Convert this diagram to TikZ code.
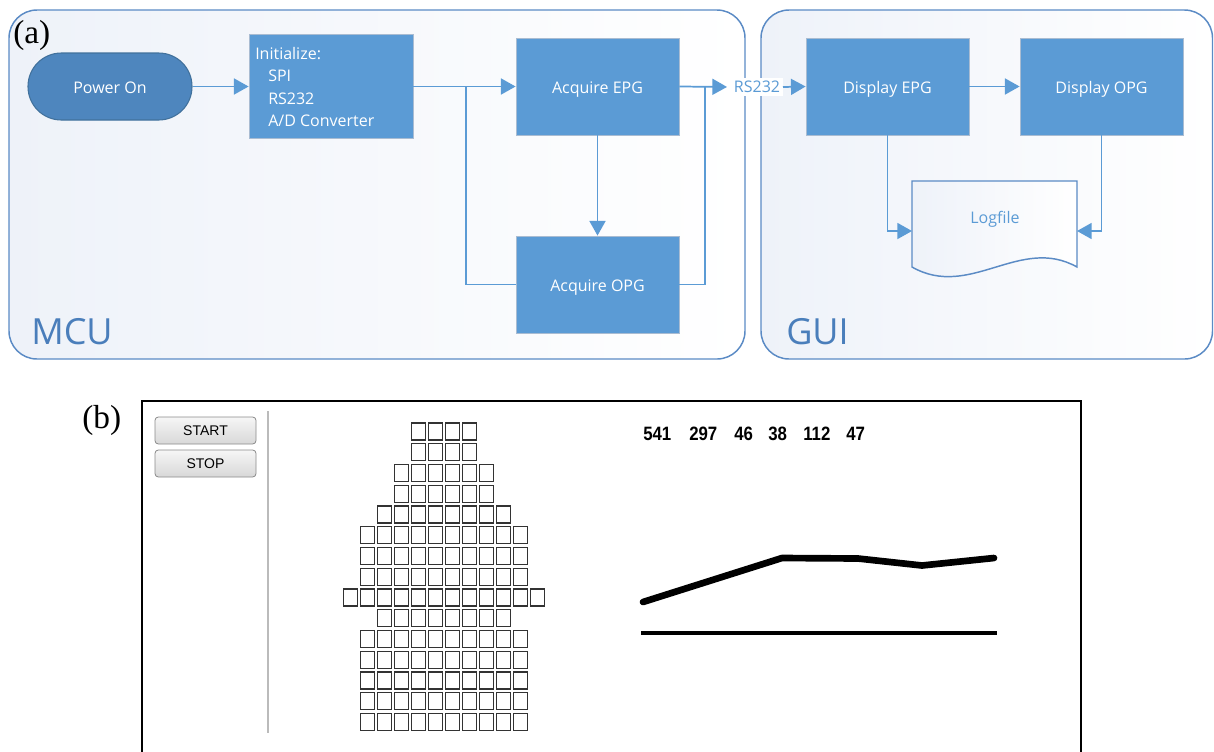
\documentclass[tikz,border=0pt]{standalone}
\usepackage{fontspec}
\setmainfont{Open Sans}
\newfontfamily\seriffont{Liberation Serif}
\newfontfamily\guifont{Liberation Sans}
\usetikzlibrary{arrows.meta,fit}
\definecolor{boxblue}{HTML}{5B9BD5}
\definecolor{boxedge}{HTML}{A9BCD2}
\definecolor{pwrblue}{HTML}{4E86BE}
\definecolor{pwredge}{HTML}{41719C}
\definecolor{paneledge}{HTML}{5B8BC5}
\definecolor{panelfill}{HTML}{EEF2F9}
\definecolor{labelblue}{HTML}{4A7EBB}
\definecolor{btnedge}{HTML}{8A8A8A}
\definecolor{btntop}{HTML}{F6F6F6}
\definecolor{btnbot}{HTML}{D8D8D8}
\definecolor{sqedge}{HTML}{333333}
\definecolor{sepgrey}{HTML}{BBBBBB}
\tikzset{
  panel/.style={draw=paneledge, line width=1.1pt, rounded corners=21pt, left color=panelfill, right color=white},
  stepbox/.style={draw=boxedge, line width=0.6pt, fill=boxblue, inner sep=0pt},
  startbox/.style={draw=pwredge, line width=0.8pt, fill=pwrblue, inner sep=0pt, rounded corners=25pt},
  flowtext/.style={text=white, inner sep=0pt, font=\fontsize{12}{14}\selectfont},
  flow/.style={draw=boxblue, line width=1.3pt, -{Triangle[length=11pt,width=12pt]}},
  plainline/.style={draw=boxblue, line width=1.3pt},
  docshape/.style={draw=paneledge, line width=1.1pt, left color=panelfill, right color=white},
  bigtext/.style={text=labelblue, inner sep=0pt, font=\fontsize{27}{30}\selectfont},
  tag/.style={inner sep=0pt, font=\seriffont\fontsize{25}{28}\selectfont},
  btn/.style={draw=btnedge, line width=0.6pt, rounded corners=2.5pt, top color=btntop, bottom color=btnbot, inner sep=0pt},
  btntext/.style={inner sep=0pt, font=\guifont\fontsize{10.5}{12}\selectfont},
  sq/.style={draw=sqedge, line width=1.1pt},
  num/.style={inner sep=0pt, anchor=base west, font=\guifont\bfseries\fontsize{14.5}{16}\selectfont},
}
\begin{document}
\begin{tikzpicture}[x=0.75pt,y=-0.75pt]
\useasboundingbox (0,0) rectangle (1214,751);
% ---------- (a) ----------
\path[panel] (9,10) rectangle (745,359);
\path[panel] (761,10) rectangle (1212.5,359);
\node[tag, anchor=base west] (taga) at (13,43) {(a)};
\node[bigtext, anchor=base west] (mcu) at (31,344) {MCU};
\node[bigtext, anchor=base west] (gui) at (786,344) {GUI};

\node[startbox, fit={(28,53)(192,120)}] (pwr) {};
\node[flowtext] (pwrt) at ([yshift=-1pt]pwr.center) {Power On};
\node[stepbox, fit={(249,34)(413,138)}] (init) {};
\node[flowtext, anchor=base west] (i1) at (255,59.3) {Initialize:};
\node[flowtext, anchor=base west] (i2) at (268,81.7) {SPI};
\node[flowtext, anchor=base west] (i3) at (268,104) {RS232};
\node[flowtext, anchor=base west] (i4) at (268,126) {A/D Converter};

\node[stepbox, fit={(516,38)(679,135)}] (aepg) {};
\node[flowtext] (aepgt) at ([yshift=-2pt]aepg.center) {Acquire EPG};
\node[stepbox, fit={(516,236)(679,333)}] (aopg) {};
\node[flowtext] (aopgt) at ([yshift=-2pt]aopg.center) {Acquire OPG};
\node[stepbox, fit={(806,38)(969,135)}] (depg) {};
\node[flowtext] (depgt) at ([yshift=-2pt]depg.center) {Display EPG};
\node[stepbox, fit={(1020,38)(1183,135)}] (dopg) {};
\node[flowtext] (dopgt) at ([yshift=-2pt]dopg.center) {Display OPG};

\path[docshape] (912,181) -- (1077,181) -- (1077,267) .. controls (1020,235) and (970,300) .. (912,267) -- cycle;
\node[text=boxblue, inner sep=0pt, font=\fontsize{12}{14}\selectfont] (log) at (995,219) {Logfile};
\coordinate (logL) at (912,231);
\coordinate (logR) at (1077,231);

\node[fill=white, text=boxblue, inner sep=2pt, font=\fontsize{12}{14}\selectfont] (rs) at (757,87) {RS232};

\coordinate (j1) at (466,87);
\coordinate (j2) at (705,87);

\draw[flow] (pwr.east) -- (init.west |- pwr.east);
\draw[flow] (init.east |- aepg.west) -- (aepg.west);
\draw[plainline] (aopg.west) -| (j1);
\draw[flow] (aepg.south) -- (aopg.north);
\draw[flow, shorten >=3pt] (aepg.east) -- (rs.west);
\draw[plainline] (aopg.east) -| (j2);
\draw[flow] (rs.east) -- (depg.west);
\draw[flow] (depg.east) -- (dopg.west);
\draw[flow] (depg.south) |- (logL);
\draw[flow] (dopg.south) |- (logR);

% ---------- (b) ----------
\node[tag, anchor=base west] (tagb) at (82,428) {(b)};
\draw[line width=1.5pt] (142,770) -- (142,401) -- (1081,401) -- (1081,770);
\draw[sepgrey, line width=1.5pt] (268,411) -- (268,733);
\node[btn, fit={(155,417)(256,444)}] (start) {};
\node[btntext] (startt) at (start.center) {START};
\node[btn, fit={(155,450)(256,477)}] (stop) {};
\node[btntext] (stopt) at (stop.center) {STOP};

\foreach \n [count=\r from 0] in {4,4,6,6,8,10,10,10,12,8,10,10,10,10,10} {
  \pgfmathsetmacro\yy{423+20.75*\r}
  \pgfmathsetmacro\xo{444-(\n*17-3)/2}
  \foreach \c in {1,...,\n} {
    \draw[sq] ({\xo+(\c-1)*17},\yy) rectangle ++(14,17);
  }
}

\node[num] (n1) at (643,440.5) {\scalebox{0.87}[1]{541}};
\node[num] (n2) at (689,440.5) {\scalebox{0.87}[1]{297}};
\node[num] (n3) at (734,440.5) {\scalebox{0.87}[1]{46}};
\node[num] (n4) at (768,440.5) {\scalebox{0.87}[1]{38}};
\node[num] (n5) at (803,440.5) {\scalebox{0.87}[1]{112}};
\node[num] (n6) at (846,440.5) {\scalebox{0.87}[1]{47}};

\draw[line width=5pt, line cap=round, line join=round] (643,602) -- (782,558) -- (858,558.5) -- (922,565.5) -- (994,558);
\draw[line width=3pt] (641,633) -- (997,633);
\end{tikzpicture}
\end{document}
